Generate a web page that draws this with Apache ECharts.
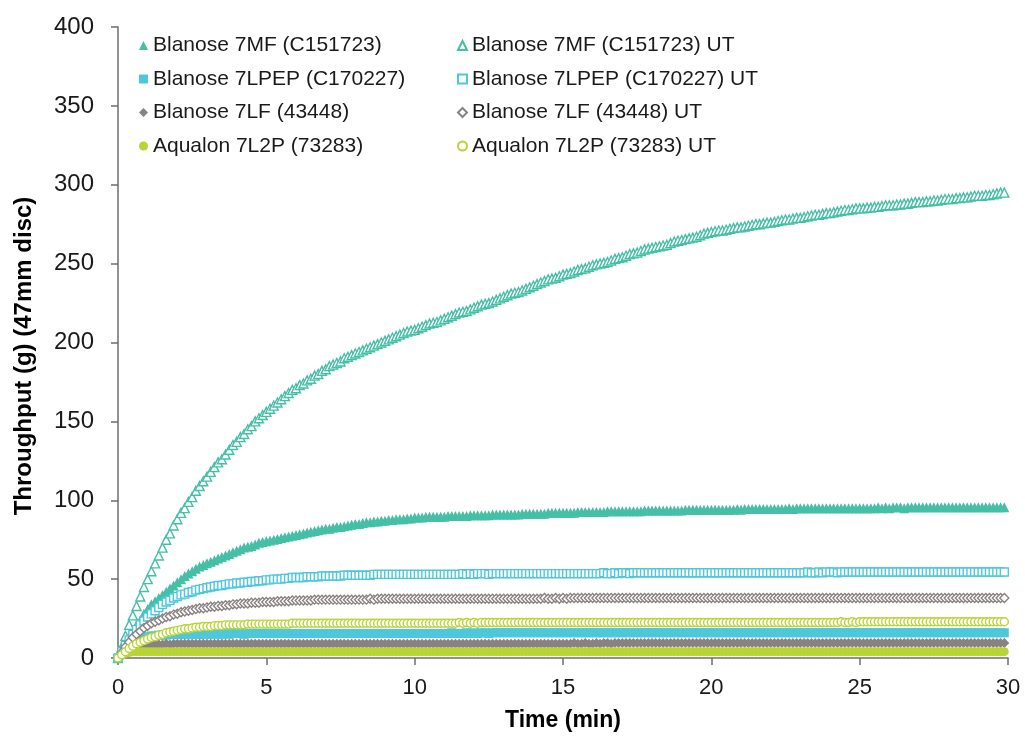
<!DOCTYPE html>
<html>
<head>
<meta charset="utf-8">
<script src="https://cdn.jsdelivr.net/npm/echarts@6/dist/echarts.min.js"></script>
<style>
html,body{margin:0;padding:0;background:#fff;}
#chart{width:1025px;height:740px;}
</style>
</head>
<body>
<div id="chart"></div>
<script>
// Time (min) sample points
const times = [
0,0.125,0.25,0.375,0.5,0.625,0.75,0.875,
1,1.125,1.25,1.375,1.5,1.625,1.75,1.875,
2,2.125,2.25,2.375,2.5,2.625,2.75,2.875,
3,3.125,3.25,3.375,3.5,3.625,3.75,3.875,
4,4.125,4.25,4.375,4.5,4.625,4.75,4.875,
5,5.125,5.25,5.375,5.5,5.625,5.75,5.875,
6,6.125,6.25,6.375,6.5,6.625,6.75,6.875,
7,7.125,7.25,7.375,7.5,7.625,7.75,7.875,
8,8.125,8.25,8.375,8.5,8.625,8.75,8.875,
9,9.125,9.25,9.375,9.5,9.625,9.75,9.875,
10,10.125,10.25,10.375,10.5,10.625,10.75,10.875,
11,11.125,11.25,11.375,11.5,11.625,11.75,11.875,
12,12.125,12.25,12.375,12.5,12.625,12.75,12.875,
13,13.125,13.25,13.375,13.5,13.625,13.75,13.875,
14,14.125,14.25,14.375,14.5,14.625,14.75,14.875,
15,15.125,15.25,15.375,15.5,15.625,15.75,15.875,
16,16.125,16.25,16.375,16.5,16.625,16.75,16.875,
17,17.125,17.25,17.375,17.5,17.625,17.75,17.875,
18,18.125,18.25,18.375,18.5,18.625,18.75,18.875,
19,19.125,19.25,19.375,19.5,19.625,19.75,19.875,
20,20.125,20.25,20.375,20.5,20.625,20.75,20.875,
21,21.125,21.25,21.375,21.5,21.625,21.75,21.875,
22,22.125,22.25,22.375,22.5,22.625,22.75,22.875,
23,23.125,23.25,23.375,23.5,23.625,23.75,23.875,
24,24.125,24.25,24.375,24.5,24.625,24.75,24.875,
25,25.125,25.25,25.375,25.5,25.625,25.75,25.875,
26,26.125,26.25,26.375,26.5,26.625,26.75,26.875,
27,27.125,27.25,27.375,27.5,27.625,27.75,27.875,
28,28.125,28.25,28.375,28.5,28.625,28.75,28.875,
29,29.125,29.25,29.375,29.5,29.625,29.75,29.875];

// Blanose 7MF (C151723)
const mf7 = [
0,5,9,13,17,21,24,28,
31,34,36,38,40,42,44,46,
48,50,52,53.5,55,56.5,58,59,
60,61,62,63,64,65,66,67,
68,69,70,70.5,71,72,73,73.5,
74,74.5,75,75.5,76,76.5,77,77.5,
78,78.5,79,79.5,80,80.5,81,81.5,
82,82,82.5,83,83,83.5,84,84.5,
85,85,85.5,86,86,86.5,86.5,87,
87,87.5,87.5,88,88,88,88.5,88.5,
89,89,89,89.5,89.5,89.5,89.5,89.5,
89.5,90,90,90,90,90,90,90.5,
90.5,90.5,90.5,90.5,90.5,91,91,91,
91,91,91,91,91,91.5,91.5,91.5,
91.5,91.5,91.5,91.5,92,92,92,92,
92,92,92,92,92.5,92.5,92.5,92.5,
92.5,92.5,92.5,92.5,93,93,93,93,
93,93,93,93,93,93,93.5,93.5,
93.5,93.5,93.5,93.5,93.5,93.5,93.5,93.5,
93.5,94,94,94,94,94,94,94,
94,94,94,94,94,94,94,94.5,
94,94.5,94.5,94.5,94.5,94.5,94.5,94.5,
94.5,94.5,94.5,94.5,94.5,95,94.5,95,
95,95,95,95,95,95,95,95,
95,95,95,95,95,95,95,95,
95,95,95,95,95,95.5,95,95.5,
95,95.5,95.5,95.5,95,95.5,95.5,95.5,
95.5,95.5,95.5,95.5,95.5,95.5,95.5,95.5,
95.5,95.5,95.5,95.5,95.5,95.5,95.5,95.5,
95.5,95.5,95.5,95.5,95.5,95.5,95.5,95.5];

// Blanose 7LPEP (C170227)
const lpep7 = [
0,3,6,8,10,11.5,12.5,13,
13.5,14,14,14.5,14.5,14.5,15,15,
15,15,15,15,15,15,15,15,
15,15,15.5,15,15,15.5,15,15.5,
15.5,15.5,15,15.5,15.5,15.5,15.5,15.5,
15.5,15.5,15.5,15.5,15.5,15.5,15.5,15.5,
15.5,15.5,15.5,15.5,15.5,15.5,15.5,15.5,
15.5,15.5,15.5,15.5,15.5,15.5,15.5,15.5,
15.5,15.5,15.5,15.5,15.5,15.5,15.5,15.5,
15.5,15.5,15.5,15.5,15.5,15.5,15.5,15.5,
15.5,15.5,15.5,15.5,15.5,15.5,15.5,15.5,
15.5,15.5,16,15.5,15.5,15.5,16,15.5,
16,15.5,16,16,15.5,16,16,16,
16,16,16,16,16,16,16,16,
16,16,16,16,16,16,16,16,
16,16,16,16,16,16,16,16,
16,16,16,16,16,16,16,16,
16,16,16,16,16,16,16,16,
16,16,16,16,16,16,16,16,
16,16,16,16,16,16,16,16,
16,16,16,16,16,16,16,16,
16,16,16,16,16,16,16,16,
16,16,16,16,16,16,16,16,
16,16,16,16,16,16,16,16,
16,16,16,16,16,16,16,16,
16,16,16,16,16,16,16,16,
16,16,16,16,16,16,16,16,
16,16,16,16,16,16,16,16,
16,16,16,16,16,16,16,16,
16,16,16,16,16,16,16,16];

// Blanose 7LF (43448)
const lf7 = [
0,3,5,6,7,7.5,8,8.5,
8.5,8.5,8.5,8.5,8.5,9,8.5,9,
9,9,9,9,9,9,9,9,
9,9,9,9,9,9,9,9,
9,9,9,9,9,9,9,9,
9,9,9,9,9,9,9,9,
9,9,9,9,9,9,9,9,
9,9,9,9,9,9,9,9,
9,9,9,9,9,9,9,9,
9,9,9,9,9,9,9,9,
9,9,9,9,9,9,9,9,
9,9,9,9,9,9,9,9,
9,9,9,9,9,9,9,9,
9,9,9,9,9,9,9,9,
9,9,9,9,9,9,9,9,
9,9,9,9.5,9,9,9.5,9,
9,9.5,9,9.5,9.5,9,9.5,9.5,
9.5,9.5,9.5,9.5,9.5,9.5,9.5,9.5,
9.5,9.5,9.5,9.5,9.5,9.5,9.5,9.5,
9.5,9.5,9.5,9.5,9.5,9.5,9.5,9.5,
9.5,9.5,9.5,9.5,9.5,9.5,9.5,9.5,
9.5,9.5,9.5,9.5,9.5,9.5,9.5,9.5,
9.5,9.5,9.5,9.5,9.5,9.5,9.5,9.5,
9.5,9.5,9.5,9.5,9.5,9.5,9.5,9.5,
9.5,9.5,9.5,9.5,9.5,9.5,9.5,9.5,
9.5,9.5,9.5,9.5,9.5,9.5,9.5,9.5,
9.5,9.5,9.5,9.5,9.5,9.5,9.5,9.5,
9.5,9.5,9.5,9.5,9.5,9.5,9.5,9.5,
9.5,9.5,9.5,9.5,9.5,9.5,9.5,9.5,
9.5,9.5,9.5,9.5,9.5,9.5,9.5,9.5];

// Aqualon 7L2P (73283)
const aq7l2p = [
0,1.5,3,3.5,4,4,4,4,
4,4,4,4,4,4,4,4,
4,4,4,4,4,4,4,4,
4,4,4,4,4,4,4,4,
4,4,4,4,4,4,4,4,
4,4,4,4,4,4,4,4,
4,4,4,4,4,4,4,4,
4,4,4,4,4,4,4,4,
4,4,4,4,4,4,4,4,
4,4,4,4,4,4,4,4,
4,4,4,4,4,4,4,4,
4,4,4,4,4,4,4,4,
4,4,4,4,4,4,4,4,
4,4,4,4,4,4,4,4,
4,4,4,4,4,4,4,4,
4,4,4,4,4,4,4,4,
4,4,4,4,4,4,4,4,
4,4,4,4,4,4,4,4,
4,4,4,4,4,4,4,4,
4,4,4,4,4,4,4,4,
4,4,4,4,4,4,4,4,
4,4,4,4,4,4,4,4,
4,4,4,4,4,4,4,4,
4,4,4,4,4,4,4,4,
4,4,4,4,4,4,4,4,
4,4,4,4,4,4,4,4,
4,4,4,4,4,4,4,4,
4,4,4,4,4,4,4,4,
4,4,4,4,4,4,4,4,
4,4,4,4,4,4,4,4];

// Blanose 7MF (C151723) UT
const mf7UT = [
0,7,14,21,27,33,39,45,
50,55,60,65,70,75,79,84,
88,92,95,99,102,106,109,112,
115,118,121,124,126,129,132,135,
137,140,142,145,147,150,152,154,
156,158,160,162,164,166,168,170,
171,173,174,176,177,179,180,182,
183,185,186,187,188,190,191,192,
193,194,195,196,197,198,199,200,
201,202,203,204,205,206,207,207.5,
208,209,210,211,212,212.5,213,214,
215,216,217,218,219,219.5,220,221,
222,223,224,224.5,225,226,227,228,
229,230,231,231.5,232,233,234,235,
236,237,238,239,240,240.5,241,242,
243,243.5,244,245,246,246.5,247,248,
249,249.5,250,250.5,251,252,253,253.5,
254,255,256,256.5,257,258,259,259.5,
260,260.5,261,261.5,262,263,264,264.5,
265,265.5,266,266.5,267,268,269,269.5,
270,270.5,271,271,271.5,272,272.5,273,
273,273.5,274,274.5,275,275,275.5,276,
276,276.5,277,277.5,278,278,278.5,279,
279,279.5,280,280.5,281,281,281.5,282,
282,282.5,283,283.5,284,284,284.5,285,
285,285,285.5,285.5,286,286,286.5,287,
287,287,287.5,287.5,288,288,288.5,289,
289,289,289.5,289.5,290,290,290.5,291,
291,291,291.5,291.5,292,292,292.5,293,
293,293,293.5,293.5,294,294.5,295,295];

// Blanose 7LPEP (C170227) UT
const lpep7UT = [
0,4,8,11.5,15,18,21,23.5,
26,28,30,32,34,35.5,36.5,38,
39,40,40.5,41.5,42,43,43.5,44,
44.5,45,45.5,46,46,46.5,47,47,
47.5,47.5,48,48,48.5,48.5,49,49,
49.5,49.5,50,50,50,50.5,50.5,51,
51,51,51,51.5,51.5,51.5,51.5,52,
52,52,52,52,52,52.5,52.5,52.5,
52.5,52.5,52.5,52.5,52.5,53,53,53,
53,53,53,53,53,53,53,53,
53,53,53,53,53,53,53,53,
53,53,53,53,53,53.5,53,53.5,
53,53.5,53.5,53.5,53,53.5,53.5,53.5,
53.5,53.5,53.5,53.5,53.5,53.5,53.5,53.5,
53.5,53.5,53.5,53.5,53.5,53.5,53.5,53.5,
53.5,53.5,53.5,53.5,53.5,53.5,53.5,53.5,
53.5,53.5,53.5,54,53.5,53.5,54,53.5,
54,54,53.5,54,54,54,54,54,
54,54,54,54,54,54,54,54,
54,54,54,54,54,54,54,54,
54,54,54,54,54,54,54,54,
54,54,54,54,54,54,54,54,
54,54,54,54,54,54,54,54,
54,54,54.5,54,54,54.5,54,54.5,
54.5,54.5,54,54.5,54.5,54.5,54.5,54.5,
54.5,54.5,54.5,54.5,54.5,54.5,54.5,54.5,
54.5,54.5,54.5,54.5,54.5,54.5,54.5,54.5,
54.5,54.5,54.5,54.5,54.5,54.5,54.5,54.5,
54.5,54.5,54.5,54.5,54.5,54.5,54.5,54.5,
54.5,54.5,54.5,54.5,54.5,54.5,54.5,54.5];

// Blanose 7LF (43448) UT
const lf7UT = [
0,3.5,7,10,13,15,17,19,
20.5,22,23,24,25,26,26.5,27.5,
28,29,29.5,30,30.5,31,31.5,31.5,
32,32.5,32.5,33,33,33.5,33.5,34,
34,34.5,34.5,34.5,35,35,35,35.5,
35.5,35.5,35.5,36,36,36,36,36.5,
36.5,36.5,36.5,36.5,36.5,37,37,37,
37,37,37,37,37,37,37,37,
37,37,37,37,37.5,37,37.5,37.5,
37.5,37.5,37.5,37.5,37.5,37.5,37.5,37.5,
37.5,37.5,37.5,37.5,37.5,37.5,37.5,37.5,
37.5,37.5,37.5,37.5,37.5,37.5,37.5,37.5,
37.5,37.5,37.5,37.5,37.5,37.5,37.5,37.5,
37.5,37.5,37.5,37.5,37.5,37.5,37.5,37.5,
37.5,37.5,37.5,38,37.5,37.5,38,37.5,
38,37.5,38,38,38,38,38,38,
38,38,38,38,38,38,38,38,
38,38,38,38,38,38,38,38,
38,38,38,38,38,38,38,38,
38,38,38,38,38,38,38,38,
38,38,38,38,38,38,38,38,
38,38,38,38,38,38,38,38,
38,38,38,38,38,38,38,38,
38,38,38,38,38,38,38,38,
38,38,38,38,38,38,38,38,
38,38,38,38,38,38,38,38,
38,38,38,38,38,38,38,38,
38,38,38,38,38,38,38,38,
38,38,38,38,38,38,38,38,
38,38,38,38,38,38,38,38];

// Aqualon 7L2P (73283) UT
const aq7l2pUT = [
0,2,4,6,7.5,9,10,11,
12,13,13.5,14.5,15,16,16.5,17,
17.5,18,18.5,18.5,19,19.5,19.5,20,
20,20,20.5,20.5,20.5,21,21,21,
21,21,21,21.5,21.5,21.5,21.5,21.5,
21.5,21.5,21.5,21.5,21.5,21.5,21.5,22,
22,22,22,22,22,22,22,22,
22,22,22,22,22,22,22,22,
22,22,22,22,22,22,22,22,
22,22,22,22,22,22,22,22,
22,22,22,22,22,22,22,22,
22,22,22,22,22.5,22,22.5,22,
22.5,22,22.5,22.5,22.5,22.5,22.5,22.5,
22.5,22.5,22.5,22.5,22.5,22.5,22.5,22.5,
22.5,22.5,22.5,22.5,22.5,22.5,22.5,22.5,
22.5,22.5,22.5,22.5,22.5,22.5,22.5,22.5,
22.5,22.5,22.5,22.5,22.5,22.5,22.5,22.5,
22.5,22.5,22.5,22.5,22.5,22.5,22.5,22.5,
22.5,22.5,22.5,22.5,22.5,22.5,22.5,22.5,
22.5,22.5,22.5,22.5,22.5,22.5,22.5,22.5,
22.5,22.5,22.5,22.5,22.5,22.5,22.5,22.5,
22.5,22.5,22.5,22.5,22.5,22.5,22.5,22.5,
22.5,22.5,22.5,22.5,22.5,22.5,22.5,22.5,
22.5,22.5,22.5,22.5,22.5,22.5,22.5,22.5,
22.5,22.5,22.5,23,22.5,22.5,23,22.5,
23,23,23,23,23,23,23,23,
23,23,23,23,23,23,23,23,
23,23,23,23,23,23,23,23,
23,23,23,23,23,23,23,23,
23,23,23,23,23,23,23,23];

const xTicks = [0,5,10,15,20,25,30];
const yTicks = [0,50,100,150,200,250,300,350,400];
const xTitle = 'Time (min)';
const yTitle = 'Throughput (g) (47mm disc)';

const names = {
  mf7: 'Blanose 7MF (C151723)',
  lpep7: 'Blanose 7LPEP (C170227)',
  lf7: 'Blanose 7LF (43448)',
  aq: 'Aqualon 7L2P (73283)',
  mf7UT: 'Blanose 7MF (C151723) UT',
  lpep7UT: 'Blanose 7LPEP (C170227) UT',
  lf7UT: 'Blanose 7LF (43448) UT',
  aqUT: 'Aqualon 7L2P (73283) UT'
};

const TEAL = '#45BFA6', CYAN = '#4DC8DB', GRAY = '#8A8282', LIME = '#B8D435';

function pairs(vals){ return vals.map((v,i)=>[times[i], v]); }

function filled(name, vals, symbol, color, size){
  return { name, type:'scatter', data:pairs(vals), symbol, symbolSize:size,
    itemStyle:{color:color, opacity:1}, emphasis:{disabled:true} };
}
function hollow(name, vals, symbol, color, size){
  return { name, type:'scatter', data:pairs(vals), symbol, symbolSize:size,
    itemStyle:{color:'#ffffff', borderColor:color, borderWidth:1.4, opacity:1}, emphasis:{disabled:true} };
}

const chart = echarts.init(document.getElementById('chart'), null, {renderer:'canvas'});
const FONT = 'Liberation Sans, Arial, sans-serif';
const legendText = {fontSize:21, color:'#1a1a1a', fontFamily:FONT, lineHeight:21};
chart.setOption({
  animation:false,
  backgroundColor:'#fff',
  textStyle:{fontFamily:FONT},
  grid:{left:118, right:17, top:27, bottom:82},
  graphic:[{
    type:'text', x:24, y:356, rotation:Math.PI/2,
    style:{text:yTitle, font:'bold 24px ' + FONT, fill:'#000', textAlign:'center', textVerticalAlign:'middle'}
  }],
  legend:[
    {orient:'vertical', left:134, top:30, itemWidth:9, itemHeight:9, itemGap:12.5,
     textStyle:legendText, data:[names.mf7, names.lpep7, names.lf7, names.aq], selectedMode:false},
    {orient:'vertical', left:452, top:30, itemWidth:9, itemHeight:9, itemGap:12.5,
     textStyle:legendText, data:[names.mf7UT, names.lpep7UT, names.lf7UT, names.aqUT], selectedMode:false}
  ],
  xAxis:{type:'value', min:xTicks[0], max:xTicks[xTicks.length-1], interval:5,
    name:xTitle, nameLocation:'middle', nameGap:51,
    nameTextStyle:{fontSize:23, fontWeight:'bold', color:'#000'},
    axisLine:{lineStyle:{color:'#6e6e6e', width:1.5}},
    axisTick:{show:true, inside:false, length:7, lineStyle:{color:'#6e6e6e', width:1.5}},
    axisLabel:{fontSize:22, color:'#1a1a1a', margin:19},
    splitLine:{show:false}},
  yAxis:{type:'value', min:yTicks[0], max:yTicks[yTicks.length-1], interval:50,
    axisLine:{show:true, lineStyle:{color:'#6e6e6e', width:1.5}},
    axisTick:{show:true, inside:false, length:7, lineStyle:{color:'#6e6e6e', width:1.5}},
    axisLabel:{fontSize:24, color:'#1a1a1a', margin:24},
    splitLine:{show:false}},
  series:[
    filled(names.mf7, mf7, 'triangle', TEAL, 10),
    filled(names.lpep7, lpep7, 'rect', CYAN, 9),
    filled(names.lf7, lf7, 'diamond', GRAY, 10),
    filled(names.aq, aq7l2p, 'circle', LIME, 9),
    hollow(names.mf7UT, mf7UT, 'triangle', TEAL, 9),
    hollow(names.lpep7UT, lpep7UT, 'rect', CYAN, 8),
    hollow(names.lf7UT, lf7UT, 'diamond', GRAY, 9),
    hollow(names.aqUT, aq7l2pUT, 'circle', LIME, 8)
  ]
});
</script>
</body>
</html>
